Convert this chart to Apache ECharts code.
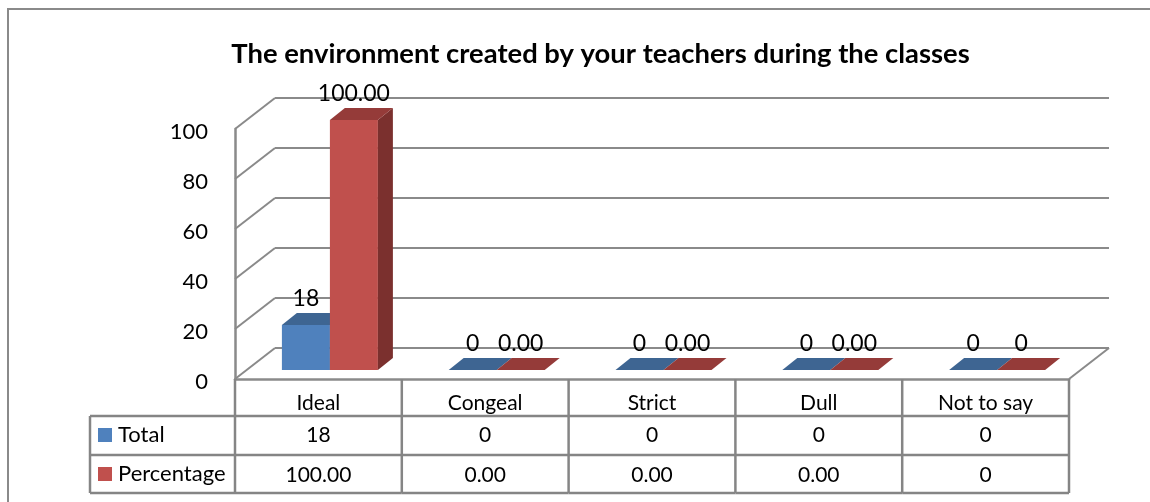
<!DOCTYPE html>
<html><head><meta charset="utf-8">
<script src="https://cdn.jsdelivr.net/npm/echarts@6/dist/echarts.min.js"></script>
<style>html,body{margin:0;padding:0;background:#fff}#c{width:1150px;height:502px}</style>
</head><body><div id="c"></div>
<script>
const titleText = 'The environment created by your teachers during the classes';
const categories = ['Ideal', 'Congeal', 'Strict', 'Dull', 'Not to say'];
const seriesNames = ['Total', 'Percentage'];
const totalValues = [18, 0, 0, 0, 0];
const percentageValues = [100, 0, 0, 0, 0];
const totalLabels = ['18', '0', '0', '0', '0'];
const percentageLabels = ['100.00', '0.00', '0.00', '0.00', '0'];
const yTicks = [0, 20, 40, 60, 80, 100];

const FONT = 'Lato';
const GRAY = '#8a8a8a';
const WALL = [40, -31];
const SHIFT = [11.5, -9];
const DEPTH = [15, -12];
const BARW = 48;
const ROW_Y = [416, 455, 493];
const lineStyle = {stroke: GRAY, lineWidth: 2, fill: null};
const tableLine = {stroke: '#858585', lineWidth: 2.5, fill: null};

function poly(points, fill) {
  return {type: 'polygon', shape: {points}, style: {fill}, silent: true};
}
function line(x1, y1, x2, y2, style) {
  return {type: 'line', shape: {x1, y1, x2, y2}, style: style || lineStyle, silent: true};
}
function text(x, y, str, size, align) {
  return {type: 'text', style: {x, y, text: str, fill: '#000', fontFamily: FONT, fontSize: size,
    align: align || 'center', verticalAlign: 'middle'}, silent: true};
}

function barSeries(idx, values, labels, front, top, side) {
  return {
    type: 'custom', name: seriesNames[idx], z: 3 + idx, clip: false,
    itemStyle: {color: front},
    data: values.map((v, i) => [i, v, labels[i]]),
    renderItem(params, api) {
      const c = api.coord([api.value(0), api.value(1)]);
      const b = api.coord([api.value(0), 0]);
      const l = c[0] + SHIFT[0] + (idx - 1) * BARW;
      const r = l + BARW;
      const t = c[1] + SHIFT[1];
      const f = b[1] + SHIFT[1];
      const ch = [];
      if (t !== f) ch.push(poly([[l, t], [r, t], [r, f], [l, f]], front));
      if (t !== f) ch.push(poly([[r, t], [r + DEPTH[0], t + DEPTH[1]], [r + DEPTH[0], f + DEPTH[1]], [r, f]], side));
      ch.push(poly([[l, t], [r, t], [r + DEPTH[0], t + DEPTH[1]], [l + DEPTH[0], t + DEPTH[1]]], top));
      ch.push(Object.assign(text((l + r) / 2, t - 26, labels[params.dataIndex], 23), {z2: 50}));
      return {type: 'group', children: ch};
    }
  };
}

const wallSeries = {
  type: 'custom', name: 'walls', z: 1, clip: false, silent: true,
  data: yTicks.map(v => [v]),
  encode: {y: 0},
  renderItem(params, api) {
    const v = api.value(0);
    const a = api.coord([0, v]);
    const x0 = params.coordSys.x, x1 = x0 + params.coordSys.width, y = a[1];
    const ch = [
      line(x0, y, x0 + WALL[0], y + WALL[1]),
      line(x0 + WALL[0], y + WALL[1], x1 + WALL[0], y + WALL[1])
    ];
    if (v === 0) ch.push(line(x1, y, x1 + WALL[0], y + WALL[1]));
    return {type: 'group', children: ch};
  }
};

const tableSeries = {
  type: 'custom', name: 'table', z: 2, clip: false, silent: true,
  data: categories.map((c, i) => [i, totalLabels[i], percentageLabels[i]]),
  renderItem(params, api) {
    const i = params.dataIndex;
    const p = api.coord([i, 0]);
    const w = api.size([1, 0])[0];
    const l = p[0] - w / 2, r = p[0] + w / 2;
    const top = p[1];
    const ch = [
      line(r, top, r, ROW_Y[2], tableLine),
      line(l, ROW_Y[0], r, ROW_Y[0], tableLine),
      line(l, ROW_Y[1], r, ROW_Y[1], tableLine),
      line(l, ROW_Y[2], r, ROW_Y[2], tableLine),
      text(p[0], (ROW_Y[0] + ROW_Y[1]) / 2, totalLabels[i], 21),
      text(p[0], (ROW_Y[1] + ROW_Y[2]) / 2 + 1, percentageLabels[i], 21)
    ];
    if (i === 0) {
      ch.push(line(l, top, l, ROW_Y[2], tableLine));
      ch.push(line(90, ROW_Y[0], l, ROW_Y[0], tableLine), line(90, ROW_Y[1], l, ROW_Y[1], tableLine), line(90, ROW_Y[2], l, ROW_Y[2], tableLine));
      ch.push(line(90, ROW_Y[0], 90, ROW_Y[2], tableLine));
    }
    return {type: 'group', children: ch};
  }
};

const chart = echarts.init(document.getElementById('c'), null, {renderer: 'canvas'});
chart.setOption({
  animation: false,
  backgroundColor: '#fff',
  tooltip: {show: false},
  title: {text: titleText, left: 595.5, top: 36, textAlign: 'center',
    textStyle: {fontFamily: FONT, fontSize: 27.4, fontWeight: 'bold', color: '#000'}},
  grid: {left: 235, top: 129, width: 834, height: 250},
  legend: {data: seriesNames, orient: 'vertical', left: 98, top: 424, padding: 0,
    itemWidth: 14, itemHeight: 14, itemGap: 17, icon: 'rect', selectedMode: false,
    textStyle: {fontFamily: FONT, fontSize: 22, color: '#000', padding: [0, 0, 0, 1]}},
  xAxis: {type: 'category', data: categories,
    axisLine: {show: true, lineStyle: {color: GRAY, width: 2.5}},
    axisTick: {show: false},
    axisLabel: {color: '#000', fontFamily: FONT, fontSize: 21, margin: 14}},
  yAxis: {type: 'value', min: 0, max: 100, interval: 20,
    axisLine: {show: true, lineStyle: {color: GRAY, width: 2.5}},
    axisTick: {show: false},
    splitLine: {show: false},
    axisLabel: {color: '#000', fontFamily: FONT, fontSize: 22, margin: 27,
      formatter: '{n|{value}}', rich: {n: {fontFamily: FONT, fontSize: 22, color: '#000', padding: [6, 0, 0, 0]}}}},
  graphic: [{type: 'rect', shape: {x: 8, y: 9, width: 1300, height: 700},
    style: {fill: null, stroke: GRAY, lineWidth: 2}, silent: true}],
  series: [
    wallSeries,
    tableSeries,
    barSeries(0, totalValues, totalLabels, '#4F81BD', '#3E6592', '#31527A'),
    barSeries(1, percentageValues, percentageLabels, '#C0504D', '#953B39', '#7B302E')
  ]
});
</script></body></html>
